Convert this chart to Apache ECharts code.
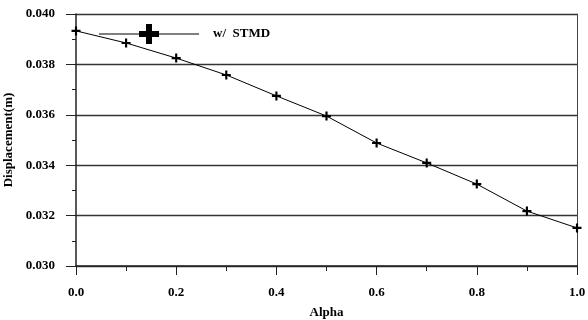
<!DOCTYPE html>
<html>
<head>
<meta charset="utf-8">
<script src="https://cdn.jsdelivr.net/npm/echarts@6/dist/echarts.min.js"></script>
<style>
  html, body { margin: 0; padding: 0; background: #fff; }
  #chart { width: 588px; height: 320px; }
</style>
</head>
<body>
<div id="chart"></div>
<script>
// data
var alpha = [0.0, 0.1, 0.2, 0.3, 0.4, 0.5, 0.6, 0.7, 0.8, 0.9, 1.0];
var stmd = [0.03933, 0.03885, 0.03825, 0.03758, 0.03675, 0.03595, 0.03488, 0.03409, 0.03325, 0.03218, 0.03151];
var seriesName = "w/  STMD";

var font = "'Liberation Serif', 'DejaVu Serif', serif";
var plus = "path://M3.8,0 L6.2,0 L6.2,3.8 L10,3.8 L10,6.2 L6.2,6.2 L6.2,10 L3.8,10 L3.8,6.2 L0,6.2 L0,3.8 L3.8,3.8 Z";
// legend icon: thin line with a bold cross in the middle
var legendIcon = "path://M0,9.5 L100,9.5 L100,10.5 L0,10.5 Z M47,0 L53,0 L53,7 L60,7 L60,13 L53,13 L53,20 L47,20 L47,13 L40,13 L40,7 L47,7 Z";

var chart = echarts.init(document.getElementById("chart"));
chart.setOption({
  backgroundColor: "#ffffff",
  animation: false,
  grid: { left: 76, right: 11, top: 14, bottom: 54, outerBoundsMode: "none", containLabel: false },
  legend: {
    left: 94,
    top: 19,
    itemWidth: 102,
    itemHeight: 20,
    icon: legendIcon,
    textStyle: { fontFamily: font, fontWeight: "bold", fontSize: 13, color: "#000", padding: [0, 0, 0, 8] },
    data: [{ name: seriesName, icon: legendIcon, itemStyle: { color: "#000" } }]
  },
  xAxis: {
    type: "value",
    min: 0,
    max: 1,
    interval: 0.2,
    name: "Alpha",
    nameLocation: "middle",
    nameGap: 40,
    nameTextStyle: { fontFamily: font, fontWeight: "bold", fontSize: 13, color: "#000" },
    axisLine: { lineStyle: { color: "#222", width: 1.5 } },
    axisTick: { show: true, inside: false, length: 9, lineStyle: { color: "#222" } },
    minorTick: { show: true, splitNumber: 2, length: 5, lineStyle: { color: "#222" } },
    splitLine: { show: false },
    axisLabel: {
      margin: 20,
      fontFamily: font, fontWeight: "bold", fontSize: 13, color: "#000",
      formatter: function (v) { return v.toFixed(1); }
    }
  },
  yAxis: [{
    type: "value",
    min: 0.030,
    max: 0.040,
    interval: 0.002,
    name: "Displacement(m)",
    nameLocation: "middle",
    nameGap: 57,
    nameTextStyle: { fontFamily: font, fontWeight: "bold", fontSize: 13, color: "#000" },
    axisLine: { show: true, lineStyle: { color: "#222", width: 1.5 } },
    axisTick: { show: true, length: 10, lineStyle: { color: "#222" } },
    minorTick: { show: true, splitNumber: 2, length: 4, lineStyle: { color: "#222" } },
    splitLine: { show: true, lineStyle: { color: "#333", width: 1.3 } },
    axisLabel: {
      margin: 21,
      fontFamily: font, fontWeight: "bold", fontSize: 13, color: "#000",
      formatter: function (v) { return v.toFixed(3); }
    }
  }, {
    type: "value",
    position: "right",
    min: 0.030,
    max: 0.040,
    axisLine: { show: true, lineStyle: { color: "#444", width: 1 } },
    axisTick: { show: false },
    axisLabel: { show: false },
    splitLine: { show: false }
  }],
  series: [{
    name: seriesName,
    type: "line",
    data: alpha.map(function (a, i) { return [a, stmd[i]]; }),
    symbol: plus,
    symbolSize: 9,
    showAllSymbol: true,
    lineStyle: { color: "#000", width: 1 },
    itemStyle: { color: "#000" }
  }]
});
</script>
</body>
</html>
